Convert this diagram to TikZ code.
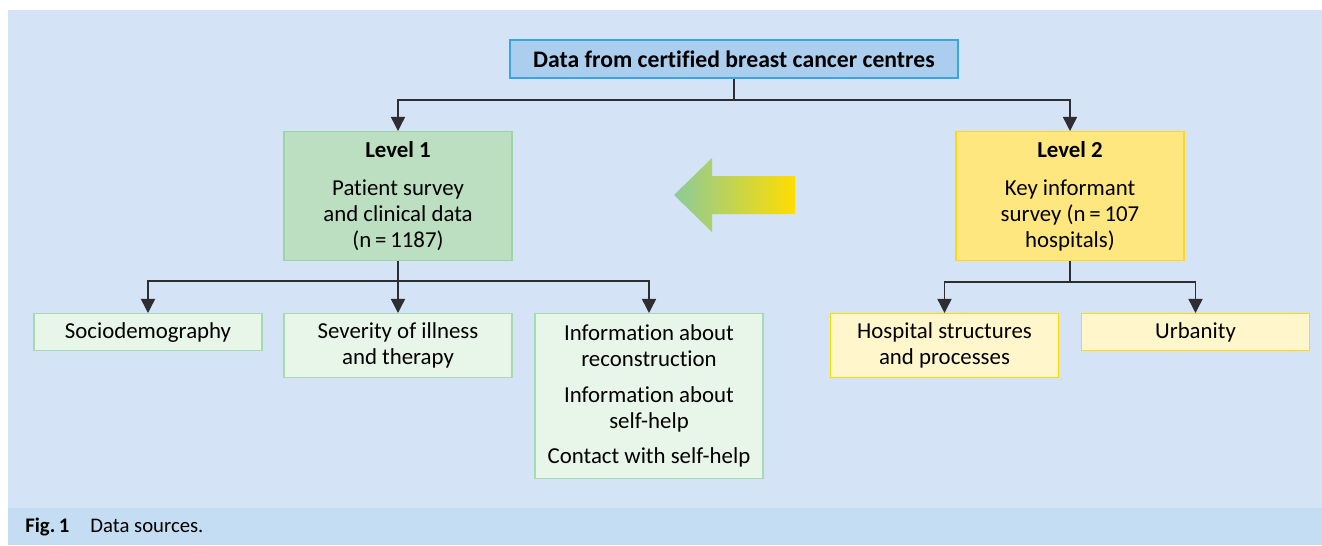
\documentclass[tikz,border=0pt]{standalone}
\usepackage{fontspec}
\setmainfont{Carlito}[Ligatures=NoCommon]
\usetikzlibrary{arrows.meta,positioning,calc}

\definecolor{bgblue}{RGB}{212,227,245}
\definecolor{capblue}{RGB}{197,221,242}
\definecolor{topfill}{RGB}{171,206,238}
\definecolor{topdraw}{RGB}{59,165,226}
\definecolor{greenfill}{RGB}{187,223,192}
\definecolor{greendraw}{RGB}{155,213,165}
\definecolor{lgreenfill}{RGB}{232,245,233}
\definecolor{lgreendraw}{RGB}{165,220,175}
\definecolor{yellowfill}{RGB}{255,231,128}
\definecolor{yellowdraw}{RGB}{255,217,25}
\definecolor{lyellowfill}{RGB}{255,246,204}
\definecolor{lyellowdraw}{RGB}{255,217,0}
\definecolor{linegray}{RGB}{45,45,50}
\definecolor{arrgreen}{RGB}{140,203,154}
\definecolor{arryellow}{RGB}{255,221,0}

\begin{document}
\begin{tikzpicture}[
    x=0.02cm, y=-0.02cm,
    box/.style={rectangle, draw, line width=0.8pt, minimum width=4.56cm, align=center, inner sep=2pt, font=\fontsize{13}{14.7}\selectfont},
    arrow/.style={-{Triangle[width=8pt,length=8pt]}, line width=0.8pt, draw=linegray},
    link/.style={line width=0.8pt, draw=linegray}
]
\useasboundingbox (0,0) rectangle (1322,545);

% background and caption bar
\fill[bgblue] (8,10) rectangle (1322,508);
\fill[capblue] (8,508) rectangle (1322,545);
\node[anchor=west, inner sep=0pt, font=\fontsize{11.8}{13}\selectfont] (caption) at (25,527) {\textbf{Fig.\,1}\hspace{12pt}Data sources.};

% top
\node[box, fill=topfill, draw=topdraw, minimum width=8.96cm, minimum height=0.76cm, font=\fontsize{13.5}{16}\selectfont] (centres) at (734,59) {\textbf{Data from certified breast cancer centres}};

% two levels
\node[box, fill=greenfill, draw=greendraw, minimum height=2.58cm, anchor=north] (level1) at (398,131) {\textbf{Level 1}\\[7pt]Patient survey\\and clinical data\\(n\,=\,1187)};
\node[box, fill=yellowfill, draw=yellowdraw, minimum height=2.58cm, anchor=north] (level2) at (1070,131) {\textbf{Level 2}\\[7pt]Key informant\\survey (n\,=\,107\\hospitals)};

\coordinate (split0) at (734,100);
\draw[link] (centres) -- (split0);
\draw[arrow] (split0) -| (level1);
\draw[arrow] (split0) -| (level2);

% gradient arrow between levels
\shade[left color=arrgreen, right color=arryellow] (674,195) -- (712,158) -- (712,176) -- (795,176) -- (795,214) -- (712,214) -- (712,232) -- cycle;

% level 1 items
\node[box, fill=lgreenfill, draw=lgreendraw, minimum height=0.74cm, anchor=north] (socio) at (148,313) {Sociodemography};
\node[box, fill=lgreenfill, draw=lgreendraw, minimum height=1.28cm, anchor=north] (severity) at (398,313) {Severity of illness\\and therapy};
\node[box, fill=lgreenfill, draw=lgreendraw, minimum height=3.3cm, anchor=north] (info) at (649,313) {Information about\\reconstruction\\[5.5pt]Information about\\self-help\\[5.5pt]Contact with self-help};

\coordinate (split1) at (398,281);
\draw[link] (level1) -- (split1);
\draw[arrow] (split1) -| (socio);
\draw[arrow] (split1) -- (severity);
\draw[arrow] (split1) -| (info);

% level 2 items
\node[box, fill=lyellowfill, draw=lyellowdraw, minimum height=1.28cm, anchor=north] (hospital) at (944.5,313) {Hospital structures\\and processes};
\node[box, fill=lyellowfill, draw=lyellowdraw, minimum height=0.74cm, anchor=north] (urban) at (1195.5,313) {Urbanity};

\coordinate (split2) at (1070,282);
\draw[link] (level2) -- (split2);
\draw[arrow] (split2) -| (hospital);
\draw[arrow] (split2) -| (urban);

\end{tikzpicture}
\end{document}
